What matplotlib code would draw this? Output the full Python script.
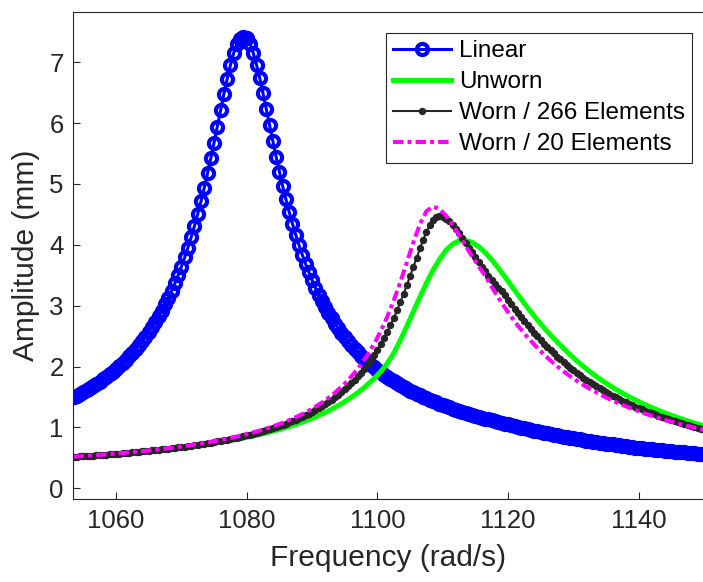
import numpy as np
import matplotlib
matplotlib.use('Agg')
import matplotlib.pyplot as plt

plt.rcParams['font.family'] = ['Liberation Sans', 'DejaVu Sans']

# frequency sweeps (rad/s)
freq_fine = np.arange(1053.5, 1150.01, 0.5)
freq_coarse = np.arange(1053.5, 1151.0, 1.0)

# amplitudes (mm)
amp_linear = [
    1.495, 1.524, 1.553, 1.583, 1.614, 1.647, 1.681, 1.716, 1.753, 1.792,
    1.832, 1.874, 1.917, 1.963, 2.011, 2.061, 2.114, 2.169, 2.227, 2.289,
    2.353, 2.421, 2.492, 2.568, 2.649, 2.734, 2.824, 2.920, 3.021, 3.130,
    3.246, 3.368, 3.500, 3.641, 3.792, 3.953, 4.125, 4.309, 4.505, 4.714,
    4.937, 5.174, 5.420, 5.677, 5.943, 6.209, 6.472, 6.722, 6.950, 7.144,
    7.294, 7.388, 7.420,
    7.391, 7.299, 7.152, 6.960, 6.735, 6.487, 6.227, 5.963, 5.700, 5.445,
    5.202, 4.967, 4.747, 4.540, 4.347, 4.165, 3.996, 3.837, 3.689, 3.550,
    3.419, 3.298, 3.183, 3.075, 2.975, 2.880, 2.791, 2.707, 2.627, 2.552,
    2.482, 2.415, 2.352, 2.291, 2.234, 2.180, 2.128, 2.079, 2.032, 1.987,
    1.945, 1.904, 1.865, 1.827, 1.791, 1.757, 1.724, 1.692, 1.662, 1.633,
    1.605, 1.577, 1.551, 1.526, 1.502, 1.479, 1.456, 1.434, 1.413, 1.393,
    1.372, 1.351, 1.331, 1.311, 1.293, 1.274, 1.257, 1.239, 1.223, 1.206,
    1.191, 1.175, 1.160, 1.145, 1.131, 1.116, 1.103, 1.089, 1.077, 1.064,
    1.050, 1.036, 1.023, 1.010, 0.997, 0.984, 0.972, 0.960, 0.948, 0.936,
    0.924, 0.913, 0.902, 0.891, 0.880, 0.870, 0.860, 0.849, 0.839, 0.829,
    0.821, 0.811, 0.803, 0.793, 0.785, 0.776, 0.768, 0.759, 0.752, 0.743,
    0.736, 0.728, 0.721, 0.712, 0.705, 0.698, 0.691, 0.683, 0.676, 0.669,
    0.664, 0.657, 0.652, 0.646, 0.641, 0.635, 0.630, 0.624, 0.619, 0.614,
    0.609, 0.604, 0.599, 0.594, 0.589, 0.584, 0.580, 0.575, 0.570, 0.566,
    0.561,
]

amp_worn266 = [
    0.519, 0.522, 0.525, 0.529, 0.532, 0.536, 0.539, 0.543, 0.547, 0.551,
    0.555, 0.559, 0.563, 0.567, 0.572, 0.576, 0.581, 0.586, 0.590, 0.595,
    0.600, 0.606, 0.611, 0.616, 0.622, 0.628, 0.633, 0.639, 0.645, 0.652,
    0.658, 0.665, 0.672, 0.679, 0.686, 0.693, 0.701, 0.709, 0.717, 0.725,
    0.733, 0.742, 0.751, 0.761, 0.770, 0.780, 0.790, 0.801, 0.811, 0.823,
    0.834, 0.846, 0.858, 0.871, 0.884, 0.898, 0.912, 0.927, 0.942, 0.957,
    0.974, 0.991, 1.008, 1.026, 1.045, 1.065, 1.086, 1.107, 1.129, 1.153,
    1.177, 1.203, 1.229, 1.257, 1.286, 1.317, 1.349, 1.383, 1.418, 1.455,
    1.495, 1.536, 1.580, 1.626, 1.675, 1.727, 1.782, 1.840, 1.902, 1.968,
    2.038, 2.113, 2.193, 2.278, 2.369, 2.466, 2.569, 2.680, 2.797, 2.922,
    3.053, 3.192, 3.336, 3.486, 3.638, 3.791, 3.941, 4.082, 4.209, 4.318,
    4.400, 4.452, 4.470,
    4.460, 4.431, 4.388, 4.332, 4.266, 4.194, 4.117, 4.038, 3.956, 3.876,
    3.795, 3.717, 3.640, 3.566, 3.494, 3.425, 3.359, 3.295, 3.235, 3.176,
    3.099, 3.023, 2.950, 2.878, 2.809, 2.743, 2.678, 2.615, 2.555, 2.497,
    2.437, 2.379, 2.323, 2.268, 2.216, 2.165, 2.117, 2.069, 2.024, 1.980,
    1.937, 1.896, 1.856, 1.818, 1.780, 1.744, 1.709, 1.676, 1.643, 1.611,
    1.580, 1.551, 1.522, 1.494, 1.466, 1.440, 1.414, 1.389, 1.365, 1.342,
    1.319, 1.297, 1.275, 1.254, 1.233, 1.213, 1.194, 1.175, 1.157, 1.139,
    1.121, 1.104, 1.087, 1.071, 1.055, 1.040, 1.025, 1.010, 0.995, 0.981,
    0.967,
]

amp_worn20 = [
    0.520, 0.527, 0.534, 0.542, 0.550, 0.558, 0.567, 0.576, 0.585, 0.595,
    0.605, 0.616, 0.628, 0.640, 0.652, 0.666, 0.680, 0.695, 0.710, 0.727,
    0.745, 0.763, 0.783, 0.804, 0.827, 0.851, 0.877, 0.904, 0.934, 0.966,
    1.000, 1.037, 1.077, 1.121, 1.168, 1.220, 1.277, 1.340, 1.409, 1.486,
    1.572, 1.668, 1.776, 1.898, 2.036, 2.193, 2.373, 2.579, 2.816, 3.085,
    3.385, 3.709, 4.039, 4.337, 4.551, 4.630,
    4.589, 4.481, 4.332, 4.161, 3.985, 3.812, 3.647, 3.494, 3.310, 3.135,
    2.970, 2.817, 2.675, 2.543, 2.421, 2.305, 2.198, 2.099, 2.007, 1.922,
    1.842, 1.769, 1.700, 1.636, 1.576, 1.520, 1.467, 1.417, 1.371, 1.327,
    1.285, 1.246, 1.209, 1.174, 1.141, 1.109, 1.079, 1.050, 1.023, 0.997,
    0.972, 0.949,
]

amp_unworn = [
    0.521, 0.527, 0.534, 0.541, 0.548, 0.556, 0.563, 0.572, 0.580, 0.589,
    0.598, 0.608, 0.618, 0.628, 0.640, 0.651, 0.663, 0.676, 0.690, 0.704,
    0.719, 0.734, 0.751, 0.768, 0.787, 0.807, 0.827, 0.850, 0.873, 0.898,
    0.924, 0.953, 0.983, 1.016, 1.050, 1.088, 1.129, 1.173, 1.220, 1.272,
    1.328, 1.390, 1.457, 1.532, 1.613, 1.704, 1.804, 1.915, 2.05, 2.22,
    2.43, 2.66, 2.90, 3.14, 3.37, 3.58, 3.76, 3.91, 4.01, 4.07,
    4.075, 4.040, 3.971, 3.874, 3.756, 3.622, 3.478, 3.331, 3.183, 3.038,
    2.899, 2.765, 2.639, 2.520, 2.408, 2.300, 2.195, 2.097, 2.006, 1.920,
    1.839, 1.764, 1.693, 1.627, 1.565, 1.506, 1.451, 1.399, 1.350, 1.304,
    1.260, 1.219, 1.179, 1.142, 1.107, 1.073, 1.041, 1.011,
]

x_ticks = [1060, 1080, 1100, 1120, 1140]
y_ticks = [0, 1, 2, 3, 4, 5, 6, 7]

dark = (0.15, 0.15, 0.15)

fig = plt.figure(figsize=(7.03, 5.82), dpi=100)
ax = fig.add_axes([0.1043, 0.1421, 0.8957, 0.8368])

ax.plot(freq_fine, amp_linear, '-o', color='b', lw=2.2, ms=8,
        mfc='none', mew=3, label='Linear')
ax.plot(freq_coarse, amp_unworn, '-', color=(0, 1, 0), lw=3.6, label='Unworn')
ax.plot(freq_fine, amp_worn266, '-', color=dark, lw=1.5, marker='o', ms=4.3,
        label='Worn / 266 Elements')
ax.plot(freq_coarse, amp_worn20, color=(1, 0, 1), lw=2.9,
        linestyle=(0, (2.6, 1.0, 1.0, 1.0)), label='Worn / 20 Elements')

ax.set_xlim(1053.46, 1149.84)
ax.set_ylim(-0.18, 7.82)
ax.set_xticks(x_ticks)
ax.set_yticks(y_ticks)
ax.tick_params(direction='in', length=5, width=0.8, labelsize=18.5,
               colors=dark, pad=7)
for side in ['left', 'bottom', 'top']:
    ax.spines[side].set_color(dark)
    ax.spines[side].set_linewidth(0.8)
ax.spines['right'].set_visible(False)

ax.set_xlabel('Frequency (rad/s)', fontsize=21.5, color=dark, labelpad=8)
ax.set_ylabel('Amplitude (mm)', fontsize=21.5, color=dark, labelpad=7)

leg = ax.legend(loc='upper right', bbox_to_anchor=(0.9825, 0.9575),
                borderaxespad=0, fontsize=17.5, fancybox=False, framealpha=1,
                edgecolor=dark, handlelength=2.4, handletextpad=0.3,
                labelspacing=0.37, borderpad=0.3)
leg.get_frame().set_linewidth(0.8)

fig.savefig('out.png', dpi=100)
